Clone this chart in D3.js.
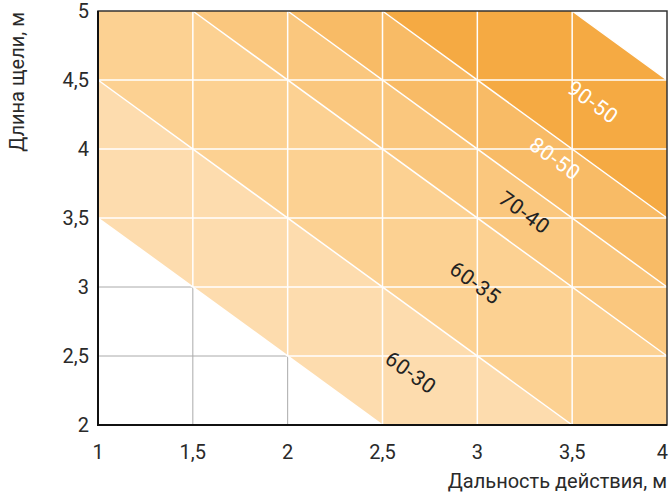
<!DOCTYPE html>
<html><head><meta charset="utf-8">
<script src="https://cdn.jsdelivr.net/npm/d3@7"></script>
<style>body{margin:0;background:#fff}text{font-family:Roboto,"DejaVu Sans",sans-serif;font-weight:400}</style>
</head><body>
<svg id="c" width="670" height="498"></svg>
<script>
// Data
const xTicks = [1, 1.5, 2, 2.5, 3, 3.5, 4];
const yTicks = [2, 2.5, 3, 3.5, 4, 4.5, 5];
const xTickLabels = ["1", "1,5", "2", "2,5", "3", "3,5", "4"];
const yTickLabels = ["2", "2,5", "3", "3,5", "4", "4,5", "5"];
// zones bounded by lines x + y = const
const zoneNames = ["60-30", "60-35", "70-40", "80-50", "90-50"];
const zoneFrom = [4.5, 5.5, 6.5, 7.0, 7.5];
const zoneTo = [5.5, 6.5, 7.0, 7.5, 8.5];
const zoneColors = ["#fddcae", "#fcd192", "#fac77e", "#f8bb66", "#f5aa43"];
const labelX = [2.65, 2.99, 3.25, 3.41, 3.61];
const labelY = [2.38, 3.03, 3.54, 3.93, 4.34];
const labelColors = ["#222", "#222", "#222", "#fff", "#fff"];
const xTitle = "Дальность действия, м";
const yTitle = "Длина щели, м";

const svg = d3.select("#c");
const x = d3.scaleLinear().domain([1, 4]).range([98, 667]);
const y = d3.scaleLinear().domain([2, 5]).range([425, 11]);

function clip(poly, s, sign) {
  const out = [];
  const f = p => sign * (p[0] + p[1] - s);
  for (let i = 0; i < poly.length; i++) {
    const a = poly[i], b = poly[(i + 1) % poly.length];
    const fa = f(a), fb = f(b);
    if (fa >= 0) out.push(a);
    if ((fa >= 0) !== (fb >= 0)) {
      const t = fa / (fa - fb);
      out.push([a[0] + t * (b[0] - a[0]), a[1] + t * (b[1] - a[1])]);
    }
  }
  return out;
}
const rect = [[1, 2], [4, 2], [4, 5], [1, 5]];
const band = (s0, s1) => clip(clip(rect, s0, 1), s1, -1);
const toPx = poly => poly.map(p => [x(p[0]), y(p[1])]);
const line = d3.line();

// gray grid (visible only on white area)
const g = svg.append("g");
g.selectAll(".gx").data(xTicks.slice(1, -1)).join("line")
  .attr("x1", d => x(d)).attr("x2", d => x(d)).attr("y1", y(2)).attr("y2", y(5))
  .attr("stroke", "#aaa").attr("stroke-width", 1);
g.selectAll(".gy").data(yTicks.slice(1, -1)).join("line")
  .attr("y1", d => y(d)).attr("y2", d => y(d)).attr("x1", x(1)).attr("x2", x(4))
  .attr("stroke", "#aaa").attr("stroke-width", 1);

// zones
svg.append("g").selectAll("path").data(zoneNames).join("path")
  .attr("d", (d, i) => line(toPx(band(zoneFrom[i], zoneTo[i]))) + "Z")
  .attr("fill", (d, i) => zoneColors[i]);

// white grid clipped to colored area
svg.append("clipPath").attr("id", "cp").append("path")
  .attr("d", line(toPx(band(zoneFrom[0], zoneTo[zoneTo.length - 1]))) + "Z");
const wg = svg.append("g").attr("clip-path", "url(#cp)");
wg.selectAll(".wx").data(xTicks.slice(1, -1)).join("line")
  .attr("x1", d => x(d)).attr("x2", d => x(d)).attr("y1", y(2)).attr("y2", y(5))
  .attr("stroke", "#fff").attr("stroke-width", 1.5);
wg.selectAll(".wy").data(yTicks.slice(1, -1)).join("line")
  .attr("y1", d => y(d)).attr("y2", d => y(d)).attr("x1", x(1)).attr("x2", x(4))
  .attr("stroke", "#fff").attr("stroke-width", 1.5);

// diagonal white boundaries
const sums = Array.from(new Set(zoneFrom.concat(zoneTo)));
svg.append("g").selectAll("path").data(sums).join("path")
  .attr("d", s => {
    const pts = band(s - 1e-9, s + 1e-9);
    const xs = pts.map(p => p[0]);
    const x0 = d3.min(xs), x1 = d3.max(xs);
    return line([[x(x0), y(s - x0)], [x(x1), y(s - x1)]]);
  })
  .attr("stroke", "#fff").attr("stroke-width", 1.5).attr("fill", "none");

// frame
svg.append("rect").attr("x", x(1)).attr("y", y(5)).attr("width", x(4) - x(1)).attr("height", y(2) - y(5))
  .attr("fill", "none").attr("stroke", "#333").attr("stroke-width", 1.5);
svg.append("path").attr("d", line([[x(1), y(5)], [x(1), y(2)], [x(4), y(2)]]))
  .attr("fill", "none").attr("stroke", "#111").attr("stroke-width", 2);

// zone labels
const ang = Math.atan2(y(2) - y(3), x(2) - x(1)) * 180 / Math.PI;
svg.append("g").selectAll("text").data(zoneNames).join("text")
  .attr("transform", (d, i) => `translate(${x(labelX[i])},${y(labelY[i])}) rotate(${ang})`)
  .attr("text-anchor", "middle").attr("dy", "0.35em")
  .attr("font-size", 21).attr("letter-spacing", 0.8)
  .attr("fill", (d, i) => labelColors[i]).text(d => d);

// ticks
svg.append("g").selectAll("text").data(xTicks).join("text")
  .attr("x", (d, i) => i === xTicks.length - 1 ? 668 : x(d)).attr("y", 459)
  .attr("text-anchor", (d, i) => i === xTicks.length - 1 ? "end" : "middle")
  .attr("font-size", 20).attr("fill", "#2a2a2a").text((d, i) => xTickLabels[i]);
svg.append("g").selectAll("text").data(yTicks).join("text")
  .attr("x", 89).attr("y", d => y(d)).attr("dy", "0.36em").attr("text-anchor", "end")
  .attr("font-size", 20).attr("fill", "#2a2a2a").text((d, i) => yTickLabels[i]);

// titles
svg.append("text").attr("x", 667).attr("y", 488).attr("text-anchor", "end")
  .attr("font-size", 20).attr("fill", "#2a2a2a").text(xTitle);
svg.append("text").attr("transform", "translate(24,12) rotate(-90)").attr("text-anchor", "end")
  .attr("font-size", 20).attr("fill", "#2a2a2a").text(yTitle);
</script>
</body></html>
